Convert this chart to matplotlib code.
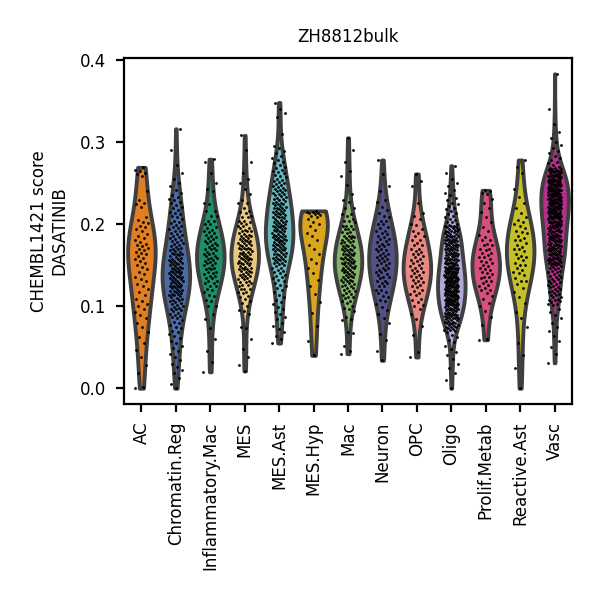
import matplotlib
matplotlib.use("Agg")
import matplotlib.pyplot as plt
import numpy as np
import pandas as pd
import seaborn as sns

title = "ZH8812bulk"
ylabel = "CHEMBL1421 score\nDASATINIB"
categories = ["AC", "Chromatin.Reg", "Inflammatory.Mac", "MES", "MES.Ast", "MES.Hyp",
              "Mac", "Neuron", "OPC", "Oligo", "Prolif.Metab", "Reactive.Ast", "Vasc"]
colors = ["#e07f22", "#4a6aa3", "#1f8f6b", "#e8c882", "#6ab6be", "#d8a51c", "#85b26a",
          "#525289", "#e88880", "#b0a8d8", "#d5507e", "#c4c02c", "#b52e8c"]

# scores in thousandths
ac = [269, 266, 264, 262, 261, 258, 240, 229, 226, 224, 221, 208, 205, 203, 201, 198, 196, 194,
      192, 188, 185, 183, 180, 178, 176, 175, 173, 171, 170, 168, 166, 165, 163, 161, 159, 157,
      155, 153, 150, 148, 145, 142, 139, 136, 133, 130, 127, 124, 121, 117, 113, 109, 106, 103,
      100, 97, 93, 89, 85, 80, 74, 68, 62, 55, 47, 38, 28, 18, 2, 0]
chromatin_reg = [316, 290, 272, 262, 255, 250, 246, 242, 238, 235, 233, 231, 229, 227, 225, 223, 221,
                 219, 217, 215, 213, 212, 210, 208, 206, 204, 202, 201, 199, 197, 196, 194, 192, 191,
                 189, 188, 186, 184, 183, 181, 179, 178, 176, 175, 173, 172, 170, 169, 167, 166, 164,
                 163, 161, 160, 159, 158, 156, 155, 154, 152, 151, 150, 148, 147, 146, 144, 143, 142,
                 141, 140, 139, 138, 136, 135, 134, 133, 131, 130, 129, 128, 126, 125, 124, 123, 122,
                 121, 120, 119, 118, 116, 115, 114, 112, 111, 110, 109, 107, 106, 104, 103, 101, 100,
                 99, 97, 96, 94, 92, 91, 89, 87, 85, 83, 81, 79, 77, 75, 73, 70, 68, 66, 63, 61, 58,
                 55, 52, 49, 45, 42, 38, 34, 30, 26, 22, 18, 12, 5, 0,
                 145, 137, 127, 117, 153, 163, 133, 123, 113, 149, 157, 171, 177, 187, 195, 105, 95, 143,
                 132, 128, 139, 146, 151, 119, 108, 162, 168, 182, 98, 88, 141, 135, 125, 115, 155, 165]
inflammatory_mac = [84, 100, 108, 114, 120, 124, 128, 131, 134, 137, 140, 142, 145, 147, 150, 152,
                    154, 156, 159, 161, 163, 165, 168, 170, 172, 174, 177, 179, 182, 184, 187, 190,
                    193, 196, 200, 204, 210, 216, 224, 240,
                    73, 90, 100, 106, 112, 117, 121, 124, 128, 131, 134, 137, 139, 142, 145, 147,
                    150, 152, 155, 157, 159, 161, 164, 166, 169, 171, 174, 177, 179, 183, 185, 189,
                    192, 195, 200, 204, 210, 216, 226, 243,
                    279, 276, 262, 250, 60, 45, 32, 20]
mes = [75, 94, 104, 111, 117, 121, 126, 129, 133, 137, 139, 143, 145, 148, 151, 153, 156, 159, 161,
       164, 166, 169, 171, 174, 177, 179, 182, 185, 187, 191, 193, 197, 201, 204, 209, 213, 219,
       226, 236, 255,
       73, 90, 100, 106, 112, 117, 121, 124, 128, 131, 134, 137, 139, 142, 145, 147, 150, 152, 155,
       157, 159, 161, 164, 166, 169, 171, 174, 177, 179, 183, 185, 189, 192, 195, 200, 204, 210,
       216, 226, 243,
       95, 109, 116, 121, 126, 129, 133, 135, 138, 141, 143, 145, 147, 149, 152, 153, 155, 157, 159,
       161, 163, 165, 167, 169, 171, 173, 175, 177, 179, 181, 183, 186, 188, 191, 195, 198, 202,
       208, 215, 229,
       308, 290, 275, 262, 250, 60, 48, 38, 28, 21]
mes_ast = [348, 340, 335, 330, 310, 295, 292, 289, 286, 283, 280, 278, 276, 274, 272, 270, 268,
           266, 265, 263, 262, 260, 258, 257, 255, 254, 252, 251, 250, 249, 248, 246, 245, 244,
           243, 242, 241, 240, 239, 238, 237, 236, 235, 234, 233, 232, 231, 230, 229, 228, 227,
           226, 225, 224, 223, 222, 221, 220, 219, 218, 217, 216, 215, 214, 213, 212, 211, 210,
           209, 208, 207, 206, 205, 204, 203, 202, 201, 200, 199, 198, 197, 196, 195, 194, 193,
           192, 191, 190, 189, 188, 187, 186, 185, 184, 183, 182, 181, 180, 179, 178, 177, 176,
           175, 174, 173, 172, 171, 170, 169, 168, 167, 166, 165, 164, 163, 162, 161, 160, 159,
           158, 157, 156, 155, 154, 153, 152, 151, 150, 149, 147, 146, 144, 143, 141, 140, 138,
           137, 135, 134, 132, 130, 128, 126, 124, 122, 120, 117, 114, 111, 108, 105, 102, 99,
           96, 93, 90, 87, 84, 80, 76, 72, 68, 64, 60, 55,
           208, 204, 200, 196, 192, 188, 184, 180, 176, 172, 168, 164, 212, 216, 220, 224, 160,
           156, 198, 186, 178, 170, 194, 182]
mes_hyp = [216, 215, 215, 214, 213, 212, 211, 210, 208, 206, 203, 200, 197, 193, 189, 185, 180,
           175, 170, 164, 158, 152, 146, 140, 132, 124, 115, 105, 92, 76, 58, 40]
mac = [68, 87, 97, 104, 110, 114, 119, 122, 126, 130, 132, 136, 138, 141, 144, 146, 149, 152, 154,
       157, 159, 162, 164, 167, 170, 172, 175, 178, 180, 184, 186, 190, 194, 197, 202, 206, 212,
       219, 229, 248,
       67, 84, 94, 100, 106, 111, 115, 118, 122, 125, 128, 131, 133, 136, 139, 141, 144, 146, 149,
       151, 153, 155, 158, 160, 163, 165, 168, 171, 173, 177, 179, 183, 186, 189, 194, 198, 204,
       210, 220, 237,
       83, 98, 106, 111, 116, 120, 124, 127, 129, 132, 135, 137, 139, 142, 144, 146, 148, 150, 152,
       154, 156, 158, 160, 162, 164, 166, 168, 170, 173, 175, 178, 180, 183, 186, 190, 194, 198,
       204, 212, 227,
       305, 290, 275, 265, 258, 52, 45, 42]
neuron = [59, 80, 91, 99, 106, 111, 116, 120, 124, 128, 131, 135, 138, 141, 144, 147, 150, 153,
          156, 159, 161, 164, 167, 170, 173, 176, 179, 182, 185, 189, 192, 196, 200, 204, 209, 214,
          221, 229, 240, 261,
          66, 85, 95, 102, 108, 112, 117, 120, 124, 128, 130, 134, 136, 139, 142, 144, 147, 150,
          152, 155, 157, 160, 162, 165, 168, 170, 173, 176, 178, 182, 184, 188, 192, 195, 200, 204,
          210, 217, 227, 246,
          278, 34, 45]
opc = [44, 65, 76, 84, 91, 96, 101, 105, 109, 113, 116, 120, 123, 126, 129, 132, 135, 138, 141,
       144, 146, 149, 152, 155, 158, 161, 164, 167, 170, 174, 177, 181, 185, 189, 194, 199, 206,
       214, 225, 246,
       100, 108, 115, 119, 124, 128, 131, 134, 137, 140, 143, 147, 150, 153, 156, 160, 163, 166,
       170, 175, 180, 186, 192, 200, 210,
       261, 253, 38]
oligo = [271, 262, 255, 250, 246, 242, 238, 235, 232, 229, 226, 224, 222, 220, 218, 216, 214, 212,
         210, 208, 206, 205, 203, 202, 200,
         199, 198, 197, 196, 195, 194, 193, 192, 191, 190, 189, 188, 187, 186, 185, 184, 183, 182,
         181, 180, 179, 178, 177, 176, 175, 174, 173, 172, 171, 170, 169, 168, 167, 166, 165, 164,
         163, 162, 161, 160, 159, 158, 157, 156, 155, 154, 153, 152, 151, 150,
         198, 196, 194, 192, 190, 188, 186, 184, 182, 180, 178, 176, 174, 172, 170, 168, 166, 164,
         162, 160, 158, 156, 154, 152, 150,
         149, 148, 147, 146, 145, 144, 143, 142, 141, 140, 139, 138, 137, 136, 135, 134, 133, 132,
         131, 130, 129, 128, 127, 126, 125, 124, 123, 122, 121, 120, 119, 118, 117, 116, 115, 114,
         113, 112, 111, 110, 109, 108, 107, 106, 105, 104, 103, 102, 101, 100,
         149, 147, 145, 143, 141, 139, 137, 135, 133, 131, 129, 127, 125, 123, 121, 119, 117, 115,
         113, 111, 109, 107, 105, 103, 101,
         148, 144, 140, 136, 132, 128, 124, 120, 116, 112, 108, 104, 100,
         99, 98, 97, 96, 95, 94, 93, 92, 91, 90, 89, 88, 87, 86, 85, 84, 83, 82, 81, 80, 79, 78,
         77, 76, 75, 74, 73, 72, 71, 70,
         98, 95, 92, 89, 86, 83, 80, 77, 74, 71,
         68, 65, 62, 59, 56, 52, 48, 44, 40, 35, 30, 25, 18, 10, 0,
         185, 181, 177, 173, 169, 165, 161, 157, 153, 151, 147, 145, 143, 141, 139, 137, 135, 133,
         131, 129, 127, 125, 123, 121, 119, 117, 115, 113, 111, 109, 107, 105, 103, 101, 99, 97,
         95, 93, 91, 89, 87, 85, 146, 142, 138, 134, 130, 126, 122, 118, 114, 110, 106, 102,
         156, 163, 171, 179, 96, 88, 81]
prolif_metab = [60, 77, 87, 94, 100, 104, 109, 112, 116, 120, 122, 126, 128, 131, 134, 136, 139, 142,
                144, 147, 149, 152, 154, 157, 160, 162, 165, 168, 170, 174, 176, 180, 184, 187,
                192, 196, 202, 209, 219, 238,
                241, 240, 236, 230, 225, 215, 150, 145, 155, 140, 135, 160, 165, 130, 125, 170,
                175, 180, 120, 59]
reactive_ast = [74, 93, 104, 111, 117, 122, 127, 131, 134, 138, 141, 144, 147, 150, 153, 156, 159,
                161, 164, 167, 169, 172, 175, 177, 180, 183, 186, 189, 192, 195, 198, 202, 205,
                209, 214, 219, 225, 233, 243, 262,
                278, 270, 55, 40, 25, 0, 85, 160, 170, 150, 180, 140, 190, 130, 200]
vasc = [383, 340, 322, 312, 305, 300, 296, 292, 289, 286, 283, 280, 278, 276, 274, 272, 270,
        268, 267, 266, 265, 264, 263, 262, 261, 260, 259, 258, 257, 256, 255, 254, 253, 252, 251,
        250, 249, 248, 247, 246, 245, 244, 243, 242, 241, 240, 239, 238, 237, 236, 235, 234, 233,
        232, 231, 230, 229, 228, 227, 226, 225, 224, 223, 222, 221, 220, 219, 218, 217, 216, 215,
        214, 213, 212, 211, 210, 209, 208, 207, 206, 205, 204, 203, 202, 201, 200,
        268, 266, 264, 262, 260, 258, 256, 254, 252, 250, 248, 246, 244, 242, 240, 238, 236, 234,
        232, 230, 228, 226, 224, 222, 220, 218, 216, 214, 212, 210, 208, 206, 204, 202, 200,
        267, 264, 261, 258, 255, 252, 249, 246, 243, 240, 237, 234, 231, 228, 225, 222, 219, 216,
        213, 210, 207, 204, 201,
        199, 198, 197, 196, 195, 194, 193, 192, 191, 190, 189, 188, 187, 186, 185, 184, 183, 182,
        181, 180, 179, 178, 177, 176, 175, 174, 173, 172, 171, 170, 169, 168, 167, 166, 165, 164,
        163, 162, 161, 160, 159, 158, 157, 156, 155, 154, 153, 152, 151, 150,
        198, 196, 194, 192, 190, 188, 186, 184, 182, 180, 178, 176, 174, 172, 170, 168, 166, 164,
        162, 160, 158, 156, 154, 152, 150,
        149, 147, 145, 143, 141, 139, 137, 135, 133, 131, 129, 127, 125, 123, 121, 119, 117, 115,
        113, 111, 109, 107, 105, 103, 101,
        148, 143, 138, 133, 128, 123, 118, 113, 108, 103,
        97, 93, 89, 85, 80, 75, 70, 64, 58, 50, 42, 31,
        263, 259, 255, 251, 247, 243, 239, 235, 231, 227, 223, 219, 215, 211, 207, 203, 199, 195,
        191, 187, 183, 179, 175, 171, 167, 163, 159, 155, 151, 146, 141, 136, 131, 126, 121, 116,
        111, 106, 245, 241, 237, 233, 229, 225, 221, 217, 213, 209, 253, 249]

group_values = [ac, chromatin_reg, inflammatory_mac, mes, mes_ast, mes_hyp, mac, neuron, opc,
                oligo, prolif_metab, reactive_ast, vasc]

rows = []
for cat, vals in zip(categories, group_values):
    for v in vals:
        rows.append((cat, v / 1000.0))
df = pd.DataFrame(rows, columns=["group", "score"])

fig = plt.figure(figsize=(3, 3), dpi=200)
ax = fig.add_axes([0.207, 0.327, 0.746, 0.576])

sns.violinplot(data=df, x="group", y="score", hue="group", order=categories,
               hue_order=categories, palette=colors, legend=False, saturation=1,
               cut=0, density_norm="width", inner=None, linewidth=1.4,
               linecolor="#3f3f3f", width=0.8, ax=ax)

golden = 0.6180339887
for i, cat in enumerate(categories):
    sub = np.sort(df[df["group"] == cat]["score"].to_numpy())
    k = np.arange(len(sub))
    offs = ((k * golden + 0.5 * (i % 2)) % 1.0 - 0.5) * 0.4
    ax.scatter(i + offs, sub, s=1, color="black", linewidths=0, zorder=5)

ax.set_xlim(-0.5, len(categories) - 0.5)
ax.set_ylim(-0.019, 0.402)
ax.set_yticks([0.0, 0.1, 0.2, 0.3, 0.4])
ax.set_xticks(range(len(categories)))
ax.set_xticklabels(categories, rotation=90, fontsize=6)
ax.tick_params(axis="y", labelsize=6, length=3, width=0.8)
ax.tick_params(axis="x", length=3, width=0.8)
ax.set_xlabel("")
ax.set_ylabel(ylabel, fontsize=6)
ax.set_title(title, fontsize=6)
ax.grid(False)
for sp in ax.spines.values():
    sp.set_linewidth(0.8)

fig.savefig("out.png", dpi=200)
